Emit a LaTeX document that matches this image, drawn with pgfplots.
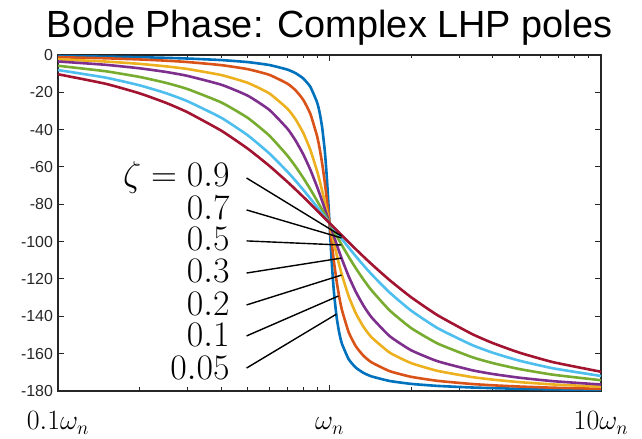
\documentclass[border=0pt]{standalone}
\usepackage{fix-cm}
\usepackage[no-math]{fontspec}
\setmainfont{Liberation Sans}
\usepackage{pgfplots}
\usepackage{pgfplotstable}
\pgfplotsset{compat=1.18}
\definecolor{c1}{rgb}{0,0.447,0.741}
\definecolor{c2}{rgb}{0.85,0.325,0.098}
\definecolor{c3}{rgb}{0.929,0.694,0.125}
\definecolor{c4}{rgb}{0.494,0.184,0.556}
\definecolor{c5}{rgb}{0.466,0.674,0.188}
\definecolor{c6}{rgb}{0.301,0.745,0.933}
\definecolor{c7}{rgb}{0.635,0.078,0.184}
\definecolor{axgray}{rgb}{0.15,0.15,0.15}

\pgfplotstableread{
u z005 z01 z02 z03 z05 z07 z09
0.1 -0.58 -1.16 -2.31 -3.47 -5.77 -8.05 -10.31
0.15 -0.88 -1.76 -3.51 -5.26 -8.72 -12.13 -15.44
0.2 -1.19 -2.39 -4.76 -7.13 -11.77 -16.26 -20.56
0.25 -1.53 -3.05 -6.09 -9.09 -14.93 -20.47 -25.64
0.3 -1.89 -3.77 -7.51 -11.19 -18.25 -24.78 -30.68
0.4 -2.73 -5.44 -10.78 -15.95 -25.46 -33.69 -40.60
0.5 -3.81 -7.59 -14.93 -21.80 -33.69 -43.03 -50.19
0.6 -5.36 -10.62 -20.56 -29.36 -43.15 -52.70 -59.35
0.7 -7.82 -15.35 -28.77 -39.47 -53.93 -62.51 -67.96
0.75 -9.73 -18.92 -34.44 -45.81 -59.74 -67.38 -72.04
0.8 -12.53 -23.96 -41.63 -53.13 -65.77 -72.18 -75.96
0.85 -17.03 -31.49 -50.78 -61.45 -71.92 -76.87 -79.72
0.9 -25.35 -43.45 -62.18 -70.61 -78.08 -81.42 -83.31
0.92 -30.93 -50.14 -67.35 -74.45 -80.52 -83.20 -84.70
0.94 -38.93 -58.24 -72.80 -78.34 -82.94 -84.95 -86.06
0.96 -50.77 -67.79 -78.46 -82.25 -85.33 -86.66 -87.40
0.97 -58.65 -73.06 -81.34 -84.20 -86.51 -87.51 -88.06
0.98 -68.00 -78.58 -84.23 -86.15 -87.69 -88.35 -88.71
0.99 -78.63 -84.26 -87.12 -88.08 -88.85 -89.18 -89.36
0.995 -84.28 -87.13 -88.56 -89.04 -89.43 -89.59 -89.68
1.0 -90 -90 -90 -90 -90 -90 -90
1.005 -95.72 -92.87 -91.44 -90.96 -90.57 -90.41 -90.32
1.0101 -101.37 -95.74 -92.88 -91.92 -91.15 -90.82 -90.64
1.0204 -112.00 -101.42 -95.77 -93.85 -92.31 -91.65 -91.29
1.0309 -121.35 -106.94 -98.66 -95.80 -93.49 -92.49 -91.94
1.0417 -129.23 -112.21 -101.54 -97.75 -94.67 -93.34 -92.60
1.0638 -141.07 -121.76 -107.20 -101.66 -97.06 -95.05 -93.94
1.087 -149.07 -129.86 -112.65 -105.55 -99.48 -96.80 -95.30
1.1111 -154.65 -136.55 -117.82 -109.39 -101.92 -98.58 -96.69
1.1765 -162.97 -148.51 -129.22 -118.55 -108.08 -103.13 -100.28
1.25 -167.47 -156.04 -138.37 -126.87 -114.23 -107.82 -104.04
1.3333 -170.27 -161.08 -145.56 -134.19 -120.26 -112.62 -107.96
1.4286 -172.18 -164.65 -151.23 -140.53 -126.07 -117.49 -112.04
1.6667 -174.64 -169.38 -159.44 -150.64 -136.85 -127.30 -120.65
2 -176.19 -172.41 -165.07 -158.20 -146.31 -136.97 -129.81
2.5 -177.27 -174.56 -169.22 -164.05 -154.54 -146.31 -139.40
3.3333 -178.11 -176.23 -172.49 -168.81 -161.75 -155.22 -149.32
4 -178.47 -176.95 -173.91 -170.91 -165.07 -159.53 -154.36
5 -178.81 -177.61 -175.24 -172.87 -168.23 -163.74 -159.44
6.6667 -179.12 -178.24 -176.49 -174.74 -171.28 -167.87 -164.56
10 -179.42 -178.84 -177.69 -176.53 -174.23 -171.95 -169.69
}\phasetab

\begin{document}
\begin{tikzpicture}
\useasboundingbox (-58bp,-48bp) rectangle (584bp,391bp);
\begin{axis}[
  at={(0,0)}, anchor=south west,
  scale only axis, width=543bp, height=336bp,
  xmode=log, xmin=0.1, xmax=10, ymin=-180, ymax=0,
  xtick={0.1,1,10},
  xticklabels={$0.1\omega_n$,$\omega_n$,$10\omega_n$},
  minor xtick={0.2,0.3,0.4,0.5,0.6,0.7,0.8,0.9,2,3,4,5,6,7,8,9},
  ytick={-180,-160,-140,-120,-100,-80,-60,-40,-20,0},
  yticklabels={-180,-160,-140,-120,-100,-80,-60,-40,-20,0},
  tick align=inside,
  major tick length=6bp, minor tick length=3.5bp,
  axis line style={line width=1.3bp, axgray},
  every tick/.style={line width=1bp, axgray},
  xticklabel style={font=\fontsize{28}{28}\selectfont, anchor=base, yshift=-39bp, text=black},
  yticklabel style={font=\fontsize{16}{16}\selectfont, text=axgray, xshift=-1.5bp},
  clip=false,
  every axis plot/.append style={line width=2.6bp, smooth, tension=0.3},
]
\addplot[c1] table[x=u, y=z005] {\phasetab};
\addplot[c2] table[x=u, y=z01] {\phasetab};
\addplot[c3] table[x=u, y=z02] {\phasetab};
\addplot[c4] table[x=u, y=z03] {\phasetab};
\addplot[c5] table[x=u, y=z05] {\phasetab};
\addplot[c6] table[x=u, y=z07] {\phasetab};
\addplot[c7] table[x=u, y=z09] {\phasetab};

\draw[black, line width=1.4bp] (axis cs:0.495,-65.9) -- (axis cs:1.107,-97.0);
\draw[black, line width=1.4bp] (axis cs:0.495,-83.0) -- (axis cs:1.107,-98.0);
\draw[black, line width=1.4bp] (axis cs:0.495,-99.6) -- (axis cs:1.107,-101.8);
\draw[black, line width=1.4bp] (axis cs:0.495,-116.8) -- (axis cs:1.107,-108.8);
\draw[black, line width=1.4bp] (axis cs:0.495,-133.9) -- (axis cs:1.107,-117.9);
\draw[black, line width=1.4bp] (axis cs:0.495,-150.5) -- (axis cs:1.079,-129.1);
\draw[black, line width=1.4bp] (axis cs:0.495,-167.7) -- (axis cs:1.061,-138.8);

\begin{scope}[every node/.style={anchor=base east, inner sep=0pt, text depth=0pt, font=\fontsize{36}{36}\selectfont}]
\node at (axis cs:0.429,-70.7) {$\zeta = 0.9$};
\node at (axis cs:0.429,-87.9) {$0.7$};
\node at (axis cs:0.429,-105.0) {$0.5$};
\node at (axis cs:0.429,-122.1) {$0.3$};
\node at (axis cs:0.429,-139.3) {$0.2$};
\node at (axis cs:0.429,-156.4) {$0.1$};
\node at (axis cs:0.429,-173.6) {$0.05$};
\end{scope}
\end{axis}
\node[anchor=base, inner sep=0pt, font=\fontsize{38}{38}\selectfont] at (271.5bp,353bp) {Bode Phase: Complex LHP poles};
\end{tikzpicture}
\end{document}
